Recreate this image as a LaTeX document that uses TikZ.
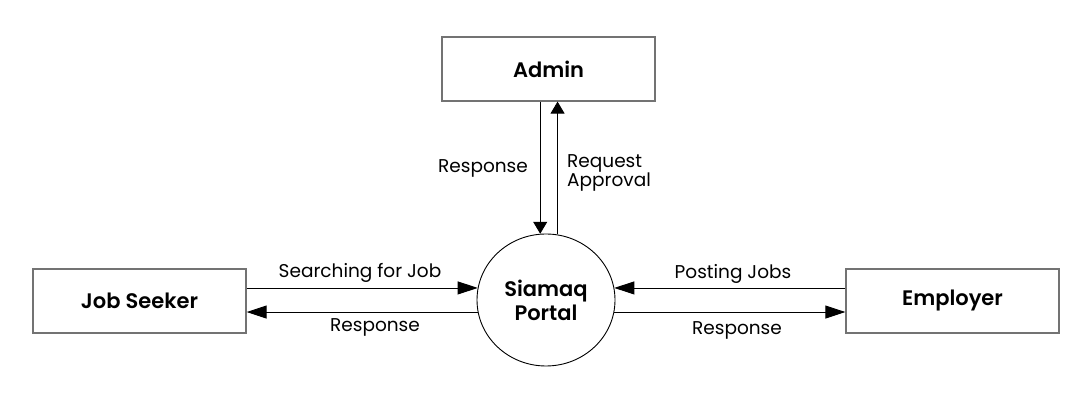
\documentclass[tikz,border=0pt]{standalone}
\usepackage{fontspec}
\setmainfont{Poppins}[BoldFont={Poppins SemiBold}]
\usetikzlibrary{arrows.meta,shapes.geometric,calc}
\begin{document}
\begin{tikzpicture}[x=1pt,y=1pt,
  entity/.style={draw=black!55,line width=1.2pt,minimum width=213pt,minimum height=64pt,inner sep=0pt,font=\fontsize{21}{24}\selectfont\bfseries},
  proc/.style={draw=black,line width=0.9pt,ellipse,minimum width=138pt,minimum height=132pt,inner sep=0pt,align=center,font=\fontsize{21}{24}\selectfont\bfseries},
  harr/.style={line width=0.9pt,-{Triangle[length=20pt,width=13pt]}},
  varr/.style={line width=0.9pt,-{Triangle[length=12pt,width=14pt]}},
  lbl/.style={font=\fontsize{18.5}{19}\selectfont,inner sep=0pt}]
\useasboundingbox (0,0) rectangle (1092,409);
\node[entity] (admin) at (548.5,340) {Admin};
\node[entity] (js) at (139.5,108) {Job Seeker};
\node[entity] (emp) at (952.5,108) {Employer};
\node[proc] (portal) at (546,109) {Siamaq\\Portal};
\draw[harr] (js.east |- portal.170) -- (portal.170);
\draw[harr] (portal.190) -- (js.east |- portal.190);
\draw[harr] (emp.west |- portal.10) -- (portal.10);
\draw[harr] (portal.350) -- (emp.west |- portal.350);
\draw[varr] (admin.south -| portal.95) -- (portal.95);
\draw[varr] (portal.80) -- (admin.south -| portal.80);
\node[lbl] (l1) at (360,136) {Searching for Job};
\node[lbl] (l2) at (375,82) {Response};
\node[lbl] (l3) at (733,135) {Posting Jobs};
\node[lbl] (l4) at (737,79) {Response};
\node[lbl] (l5) at (483,241) {Response};
\node[lbl,align=left,anchor=west] (l6) at (567,236) {Request\\Approval};
\end{tikzpicture}
\end{document}
